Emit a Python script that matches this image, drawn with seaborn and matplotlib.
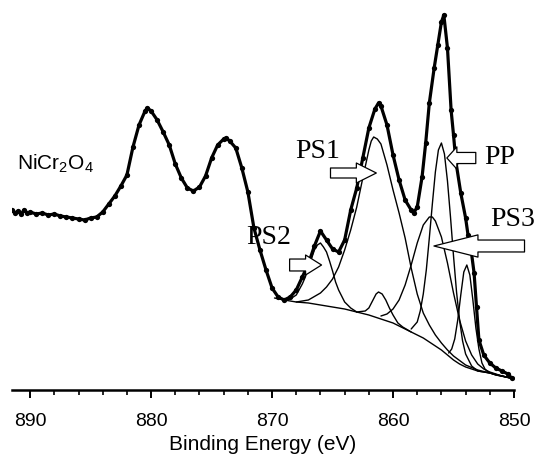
import numpy as np
import pandas as pd
import matplotlib
matplotlib.use('Agg')
import matplotlib.pyplot as plt
import seaborn as sns
from matplotlib.ticker import MultipleLocator

# Ni 2p spectrum (binding energy in eV, intensity in a.u.)
energy = [891.5, 891.25, 891.0, 890.75, 890.5, 890.25, 890.0, 889.5, 889.0, 888.5,
          888.0, 887.5, 887.0, 886.5, 886.0, 885.5, 885.0, 884.5, 884.0, 883.5,
          883.0, 882.5, 882.0, 881.5, 881.0, 880.5, 880.3, 880.0, 879.5, 879.0,
          878.5, 878.0, 877.5, 877.0, 876.5, 876.0, 875.5, 875.0, 874.5, 874.0,
          873.8, 873.5, 873.0, 872.5, 872.0, 871.5, 871.0, 870.5, 870.0, 869.5,
          869.0, 868.5, 868.0, 867.5, 867.0, 866.5, 866.0, 865.5, 865.0, 864.5,
          864.0, 863.5, 863.0, 862.5, 862.0, 861.5, 861.2, 861.0, 860.5, 860.0,
          859.5, 859.0, 858.5, 858.3, 858.0, 857.6, 857.3, 857.0, 856.6, 856.3,
          856.0, 855.8, 855.5, 855.2, 855.0, 854.8, 854.4, 854.0, 853.8, 853.6,
          853.3, 853.1, 852.9, 852.5, 852.0, 851.5, 851.0, 850.5, 850.2]
counts = [180, 177, 179, 176, 180, 177, 178, 176, 177, 175,
          176, 174, 173, 172, 171, 170, 172, 173, 178, 186,
          194, 204, 215, 243, 265, 279, 282, 279, 270, 258,
          245, 226, 212, 202, 199, 203, 214, 232, 245, 251,
          252, 249, 242, 222, 198, 162, 140, 120, 102, 93,
          90, 93, 100, 113, 126, 144, 159, 150, 141, 138,
          150, 180, 202, 232, 262, 281, 287, 284, 265, 235,
          210, 190, 180, 177, 183, 213, 247, 287, 322, 345,
          368, 375, 342, 280, 255, 228, 197, 172, 155, 145,
          117, 83, 50, 35, 27, 22, 19, 16, 12]

# fitted background
bg_energy = [869.8, 869.0, 868.0, 867.0, 866.0, 865.0, 864.0, 863.0, 862.0, 861.0,
             860.0, 859.0, 858.0, 857.5, 857.0, 856.5, 856.0, 855.5, 855.0, 854.5,
             854.0, 853.5, 853.0, 852.5, 852.0, 851.5, 851.0, 850.2]
bg_counts = [92, 90, 88, 87, 85, 83, 81, 78, 75, 71,
             67, 61, 55, 52, 48, 44, 40, 35, 30, 26,
             23, 21, 19, 18, 17, 15, 14, 12]

# fitted components (each one sits on the background)
ps2_energy = [869.0, 868.5, 868.0, 867.5, 867.25, 867.0, 866.75, 866.5, 866.25, 866.0,
              865.75, 865.5, 865.25, 865.0, 864.75, 864.5, 864.0, 863.5, 863.0]
ps2_counts = [90, 91, 95, 106, 113, 123, 131, 140, 145, 147,
              143, 138, 129, 119, 108, 100, 88, 82, 78]

ps1_energy = [868.0, 867.0, 866.0, 865.5, 865.0, 864.5, 864.0, 863.5, 863.0, 862.5,
              862.0, 861.8, 861.6, 861.3, 861.0, 860.5, 860.0, 859.5, 859.0, 858.5,
              858.0, 857.5, 857.0, 856.5, 856.0, 855.5, 855.0, 854.0, 853.0, 852.0,
              851.0, 850.3]
ps1_counts = [88, 90, 97, 103, 111, 123, 140, 160, 183, 212,
              240, 249, 253, 251, 246, 225, 200, 177, 152, 122,
              96, 77, 65, 55, 47, 40, 34, 25, 20, 17,
              14, 12]

sat_energy = [863.0, 862.3, 862.0, 861.7, 861.4, 861.2, 860.9, 860.6, 860.3, 860.0,
              859.6, 859.2, 858.5]
sat_counts = [78, 79, 82, 89, 96, 98, 96, 90, 82, 75,
              67, 63, 58]

ps3_energy = [861.0, 860.5, 860.0, 859.5, 859.0, 858.5, 858.0, 857.5, 857.0, 856.75,
              856.5, 856.0, 855.5, 855.0, 854.5, 854.0, 853.5, 853.0, 852.5, 852.0,
              851.0, 850.3]
ps3_counts = [74, 76, 81, 90, 105, 125, 147, 165, 173, 173,
              169, 153, 127, 97, 70, 49, 35, 26, 21, 18,
              14, 12]

pp_energy = [858.5, 858.0, 857.75, 857.5, 857.25, 857.0, 856.75, 856.5, 856.25, 856.0,
             855.75, 855.5, 855.25, 855.0, 854.75, 854.5, 854.25, 854.0, 853.5, 853.0,
             852.0, 851.0, 850.3]
pp_counts = [61, 68, 79, 96, 120, 152, 186, 218, 240, 247,
             236, 209, 173, 134, 98, 70, 49, 36, 24, 19,
             17, 14, 12]

low_energy = [855.4, 855.15, 854.9, 854.65, 854.4, 854.15, 853.9, 853.65, 853.4, 853.15,
              852.9, 852.65, 852.4, 852.15, 851.5, 850.3]
low_counts = [37, 41, 51, 70, 95, 118, 125, 115, 90, 62,
              41, 27, 21, 18, 15, 12]

peak_labels = ['PS1', 'PS2', 'PS3', 'PP']

sns.set_style('white')
plt.rcParams['font.family'] = ['Liberation Sans', 'DejaVu Sans']
plt.rcParams['mathtext.fontset'] = 'custom'
plt.rcParams['mathtext.rm'] = 'Liberation Sans'
plt.rcParams['mathtext.it'] = 'Liberation Sans:italic'
plt.rcParams['text.color'] = 'black'
plt.rcParams['axes.labelcolor'] = 'black'
plt.rcParams['xtick.color'] = 'black'
plt.rcParams['axes.edgecolor'] = 'black'

fig = plt.figure(figsize=(5.44, 4.54), dpi=100)
ax = fig.add_axes([12/544, 64/454, 502/544, 385/454])

fits = [(bg_energy, bg_counts), (ps2_energy, ps2_counts), (ps1_energy, ps1_counts),
        (sat_energy, sat_counts), (ps3_energy, ps3_counts), (pp_energy, pp_counts),
        (low_energy, low_counts)]
for e, c in fits:
    sns.lineplot(x=e, y=c, ax=ax, color='black', lw=1.0, sort=False, estimator=None)

sns.lineplot(x=energy, y=counts, ax=ax, color='black', lw=2.3, marker='o',
             markersize=3.8, markeredgewidth=0, sort=False, estimator=None)

ax.set_xlim(891.5, 850.0)
ax.set_ylim(0, 385)
ax.set_yticks([])
sns.despine(ax=ax, left=True, right=True, top=True)
ax.spines['bottom'].set_linewidth(1.8)
ax.xaxis.set_major_locator(MultipleLocator(10))
ax.xaxis.set_minor_locator(MultipleLocator(2))
ax.tick_params(axis='x', which='both', bottom=True, direction='out', color='black')
ax.tick_params(axis='x', which='major', length=5.8, width=1.4, labelsize=14, pad=11,
               labelcolor='black')
ax.tick_params(axis='x', which='minor', length=3.6, width=1.2)
ax.set_xlabel('Binding Energy (eV)', fontsize=15, labelpad=3)
ax.set_ylabel('')


def block_arrow(tail, tip, head_w, head_l, tail_w):
    style = f'simple,head_length={head_l},head_width={head_w},tail_width={tail_w}'
    ax.annotate('', xy=tip, xytext=tail, xycoords='data', annotation_clip=False,
                arrowprops=dict(arrowstyle=style, fc='white', ec='black', lw=0.9,
                                shrinkA=0, shrinkB=0, mutation_scale=1))


serif = ['Liberation Serif', 'DejaVu Serif']
ax.text(868.05, 239, peak_labels[0], family=serif, fontsize=20, ha='left', va='center')
ax.text(872.1, 153, peak_labels[1], family=serif, fontsize=20, ha='left', va='center')
ax.text(852.0, 170, peak_labels[2], family=serif, fontsize=20, ha='left', va='center')
ax.text(852.5, 233, peak_labels[3], family=serif, fontsize=20, ha='left', va='center')

block_arrow((865.17, 217), (861.38, 217), 14.4, 14.4, 7.2)
block_arrow((868.55, 125), (865.91, 125), 14.4, 11.5, 8.6)
block_arrow((849.13, 144), (856.62, 144), 16, 31.7, 8.6)
block_arrow((853.16, 232), (855.55, 232), 16, 7.2, 8)

ax.text(891.09, 220, 'NiCr$_2$O$_4$', fontsize=15, ha='left', va='baseline')

fig.savefig('out.png', dpi=100)
